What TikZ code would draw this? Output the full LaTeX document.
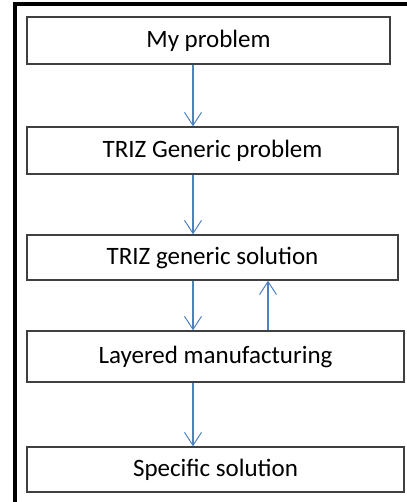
\documentclass[tikz,border=0pt]{standalone}
\usepackage{fontspec}
\setmainfont{Carlito}
\usetikzlibrary{arrows.meta}
\definecolor{arrblue}{RGB}{79,129,189}
\definecolor{boxgray}{RGB}{64,64,64}
\begin{document}
\begin{tikzpicture}[x=1pt,y=1pt,
  box/.style={draw=boxgray,line width=1.4pt,minimum height=47pt,inner sep=0pt,font=\fontsize{25}{28}\selectfont},
  arr/.style={draw=arrblue,line width=1.2pt,-{Straight Barb[length=13pt,width=17pt,line width=1pt]}}]
\useasboundingbox (0,0) rectangle (406,502);
\fill[white] (0,0) rectangle (406,502);
\draw[line width=3.2pt,black] (15,-10) -- (15,498) -- (420,498);
\node[box,minimum width=363pt,minimum height=47pt] (b1) at (208.5,461.5) {My problem};
\node[box,minimum width=371pt,minimum height=47pt] (b2) at (212.5,351.5) {TRIZ Generic problem};
\node[box,minimum width=371pt,minimum height=45pt] (b3) at (212.5,244.5) {TRIZ generic solution};
\node[box,minimum width=377pt,minimum height=51pt] (b4) at (215.5,145.5) {Layered manufacturing};
\node[box,minimum width=377pt,minimum height=45pt] (b5) at (215.5,32.5) {Specific solution};
\coordinate (xa) at (193,0);
\coordinate (xb) at (268,0);
\draw[arr] (b1.south -| xa) -- (b2.north -| xa);
\draw[arr] (b2.south -| xa) -- (b3.north -| xa);
\draw[arr] (b3.south -| xa) -- (b4.north -| xa);
\draw[arr] (b4.north -| xb) -- (b3.south -| xb);
\draw[arr] (b4.south -| xa) -- (b5.north -| xa);
\end{tikzpicture}
\end{document}
